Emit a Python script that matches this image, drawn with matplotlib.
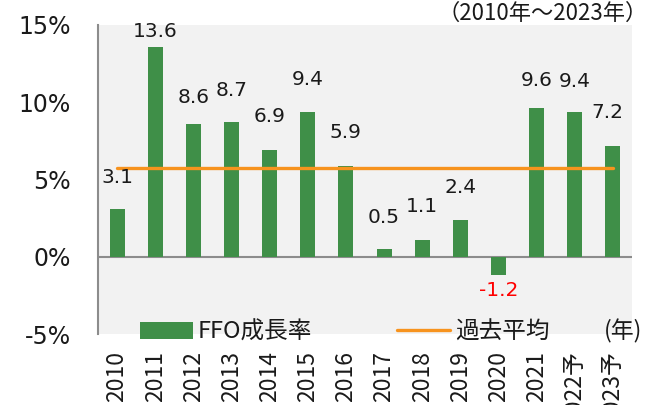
import numpy as np
import matplotlib
matplotlib.use("Agg")
import matplotlib.pyplot as plt

plt.rcParams["font.family"] = ["DejaVu Sans", "Noto Sans CJK JP"]

# FFO growth rate by year (%), 2022/2023 are forecasts
years = ["2010", "2011", "2012", "2013", "2014", "2015", "2016",
         "2017", "2018", "2019", "2020", "2021", "2022予", "2023予"]
growth = [3.1, 13.6, 8.6, 8.7, 6.9, 9.4, 5.9, 0.5, 1.1, 2.4, -1.2, 9.6, 9.4, 7.2]
n_actual = 12  # 2010-2021 are actual results
yticks = [-5, 0, 5, 10, 15]

GREEN = "#3f8f48"
ORANGE = "#f7931e"
GRID = "#8c8c8c"
TXT = "#1a1a1a"

# label placement (pixels from bar end to label centre), and small x shifts
label_dy = [31, 15, 26, 32, 34, 32, 33, 32, 33, 32, -15, 28, 30, 33]
label_dx = [0] * 13 + [-6]

fig = plt.figure(figsize=(6.49, 4.05), dpi=100)
ax = fig.add_axes([98 / 649, 1 - 334 / 405, 534 / 649, 309 / 405])
ax.set_facecolor("#f2f2f2")

x = np.arange(len(years))
bars = ax.bar(x, growth, width=0.39, color=GREEN, zorder=2, label="FFO成長率")

# past average over the actual years only
avg = np.mean(growth[:n_actual])
avg_line, = ax.plot([x[0], x[-1]], [avg, avg], color=ORANGE, lw=2.4,
                    solid_capstyle="round", zorder=3, label="過去平均")

ax.axhline(0, color=GRID, lw=1.5, zorder=1)

for i, v in enumerate(growth):
    ax.annotate(f"{v:.1f}", xy=(i, v), xytext=(label_dx[i] * 0.72, label_dy[i] * 0.72),
                textcoords="offset points", ha="center", va="center",
                fontsize=14.5, color="red" if v < 0 else TXT, zorder=4)

ax.set_xlim(-0.5, len(years) - 0.5)
ax.set_ylim(-5, 15)
ax.set_yticks(yticks)
ax.set_yticklabels([f"{t}%" for t in yticks], fontsize=17, color=TXT)
ax.set_xticks(x)
ax.set_xticklabels(years, rotation=90, fontsize=16.5, color=TXT,
                   family=["Noto Sans CJK JP", "DejaVu Sans"])
ax.tick_params(axis="y", length=0, pad=19.5)
ax.tick_params(axis="x", length=0, pad=12)

for s in ["top", "right", "bottom"]:
    ax.spines[s].set_visible(False)
ax.spines["left"].set_color(GRID)
ax.spines["left"].set_linewidth(1.5)

leg = ax.legend(handles=[bars, avg_line], ncol=2, loc="center left",
                bbox_to_anchor=(140 / 649, 1 - 332 / 405), bbox_transform=fig.transFigure,
                frameon=False, borderpad=0, borderaxespad=0,
                handlelength=2.25, handleheight=0.7, handletextpad=0.2,
                columnspacing=3.6,
                prop={"family": ["Noto Sans CJK JP"], "size": 17})
for t in leg.get_texts():
    t.set_color(TXT)

fig.text(642 / 649, 1 - 331 / 405, "(年)", ha="right", va="center", fontsize=16.5,
         color=TXT, family=["Noto Sans CJK JP"])
fig.text(648 / 649, 1 - 13 / 405, "（2010年～2023年）", ha="right", va="center",
         fontsize=16, color=TXT, family=["Noto Sans CJK JP"])

fig.savefig("out.png", dpi=100)
